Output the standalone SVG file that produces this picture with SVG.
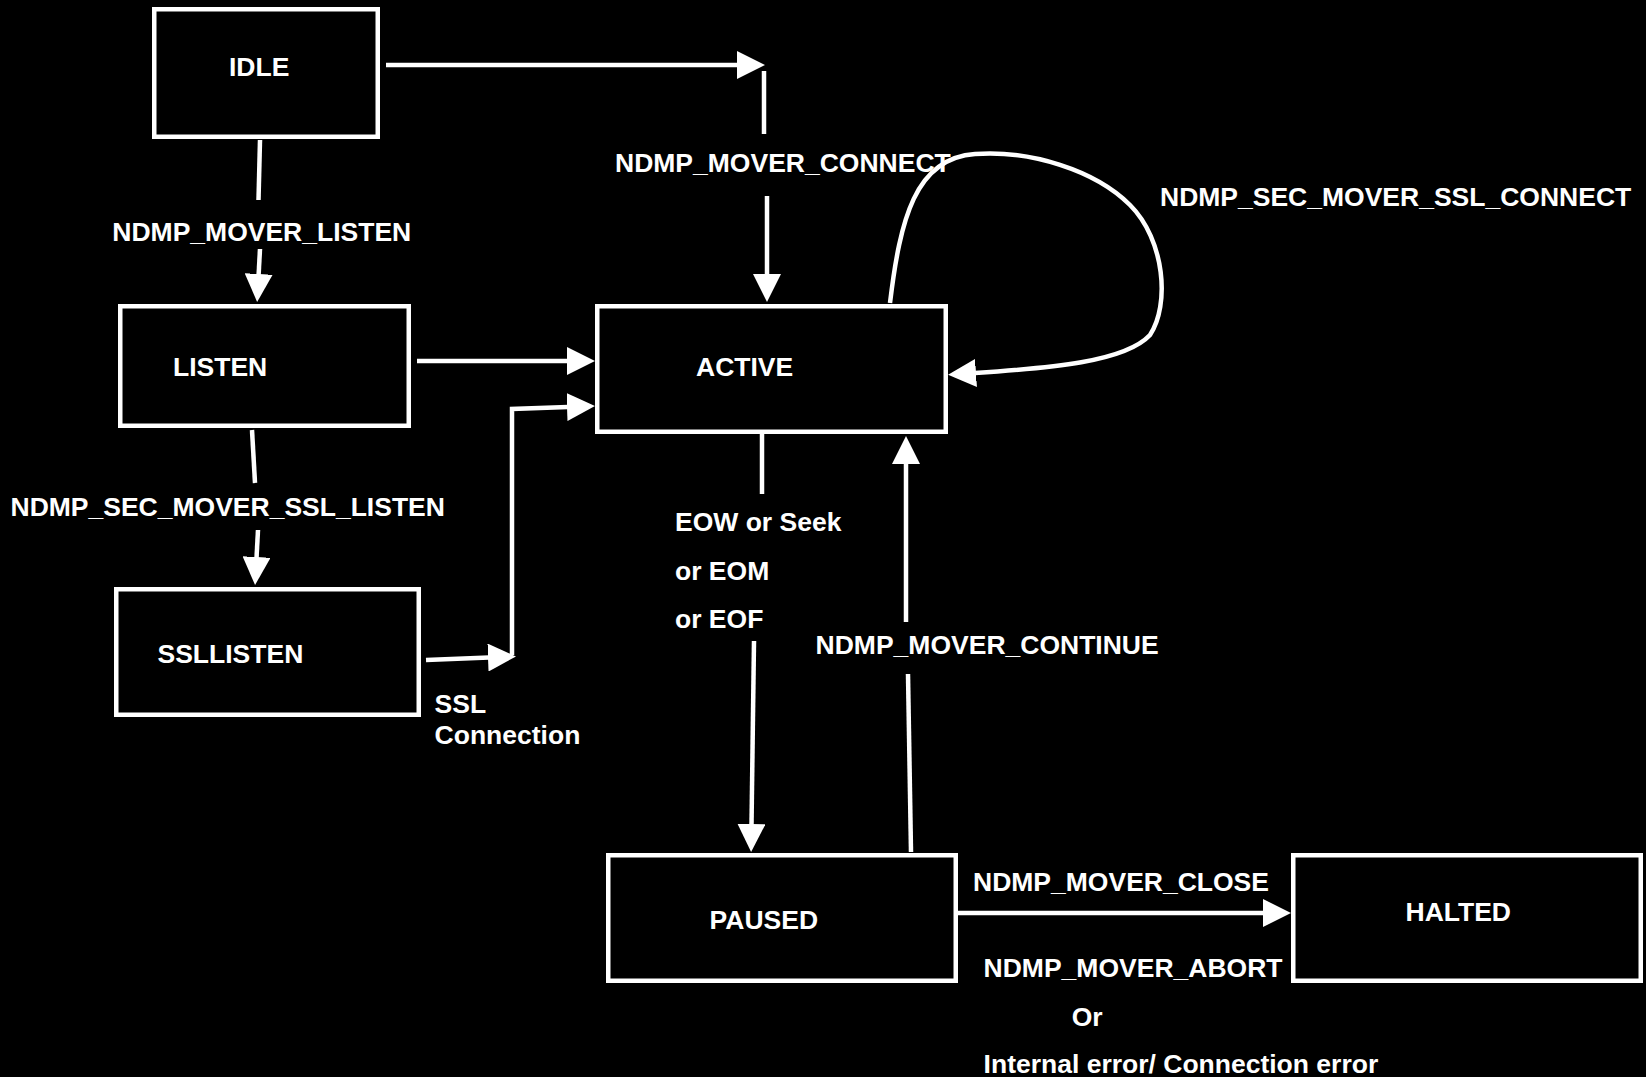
<svg xmlns="http://www.w3.org/2000/svg" width="1646" height="1077" viewBox="0 0 1646 1077">
<style>
.box{fill:#000;stroke:#fff;stroke-width:4.5}
.lbl{fill:#fff;font-family:"Liberation Sans",Arial,sans-serif;font-weight:bold;font-size:26.5px}
.ln{fill:none;stroke:#fff;stroke-width:4.5;stroke-linecap:butt}
.arr{marker-end:url(#ah)}
</style>
<defs>
<marker id="ah" markerUnits="userSpaceOnUse" markerWidth="28" markerHeight="28" viewBox="0 0 28 28" refX="1" refY="14" orient="auto">
<path d="M0,0 L28,14 L0,28 Z" fill="#fff"/>
</marker>
</defs>
<rect x="0" y="0" width="1646" height="1077" fill="#000"/>
<g id="connectors">
<path class="ln arr" d="M386,65 L738,65"/>
<path class="ln" d="M764,71 L764,134"/>
<path class="ln arr" d="M767,196 L767,275"/>
<path class="ln" d="M260,140 L258.5,200"/>
<path class="ln arr" d="M260,249 L258.6,275"/>
<path class="ln arr" d="M417,361 L568,361"/>
<path class="ln" d="M252,430 L255,483"/>
<path class="ln arr" d="M258,530 L256.5,558"/>
<path class="ln arr" d="M426,660 L489,657.5"/>
<path class="ln arr" d="M512,655 L512,409 L568,407"/>
<path class="ln" d="M762,434 L762,494"/>
<path class="ln arr" d="M754,641 L751.5,825"/>
<path class="ln" d="M911,852 L908,674"/>
<path class="ln arr" d="M906,622 L906,463"/>
<path class="ln arr" d="M958,913 L1264,913"/>
<path class="ln arr" d="M890,303 C900,220 915,158 975,154 C1030,150 1095,170 1130,205 C1165,240 1170,305 1150,335 C1125,362 1050,368 975,373"/>
</g>
<g id="labels">
<text class="lbl" x="615" y="171.5">NDMP_MOVER_CONNECT</text>
<text class="lbl" x="1160" y="205.8">NDMP_SEC_MOVER_SSL_CONNECT</text>
<text class="lbl" x="112.3" y="240.5">NDMP_MOVER_LISTEN</text>
<text class="lbl" x="10.5" y="515.5">NDMP_SEC_MOVER_SSL_LISTEN</text>
<text class="lbl" x="434.6" y="712.8">SSL</text>
<text class="lbl" x="434.6" y="744.3">Connection</text>
<text class="lbl" x="675" y="531.2">EOW or Seek</text>
<text class="lbl" x="675" y="579.5">or EOM</text>
<text class="lbl" x="675" y="627.8">or EOF</text>
<text class="lbl" x="815.6" y="654">NDMP_MOVER_CONTINUE</text>
<text class="lbl" x="973" y="891.2">NDMP_MOVER_CLOSE</text>
<text class="lbl" x="983.6" y="977.3">NDMP_MOVER_ABORT</text>
<text class="lbl" x="1071.7" y="1025.5">Or</text>
<text class="lbl" x="983.6" y="1072.9">Internal error/ Connection error</text>
</g>
<g id="idle"><rect class="box" x="154.25" y="9.25" width="223.5" height="127.5"/><text class="lbl" x="229" y="75.5">IDLE</text></g>
<g id="listen"><rect class="box" x="120.25" y="306.25" width="288.5" height="119.5"/><text class="lbl" x="173" y="375.8">LISTEN</text></g>
<g id="ssllisten"><rect class="box" x="116.25" y="589.25" width="302.5" height="125.5"/><text class="lbl" x="157.5" y="662.5">SSLLISTEN</text></g>
<g id="active"><rect class="box" x="597.25" y="306.25" width="348.5" height="125.5"/><text class="lbl" x="696" y="375.8">ACTIVE</text></g>
<g id="paused"><rect class="box" x="608.25" y="855.25" width="347.5" height="125.5"/><text class="lbl" x="709.6" y="929">PAUSED</text></g>
<g id="halted"><rect class="box" x="1293.25" y="855.25" width="347.5" height="125.5"/><text class="lbl" x="1405.5" y="920.5">HALTED</text></g>
</svg>
